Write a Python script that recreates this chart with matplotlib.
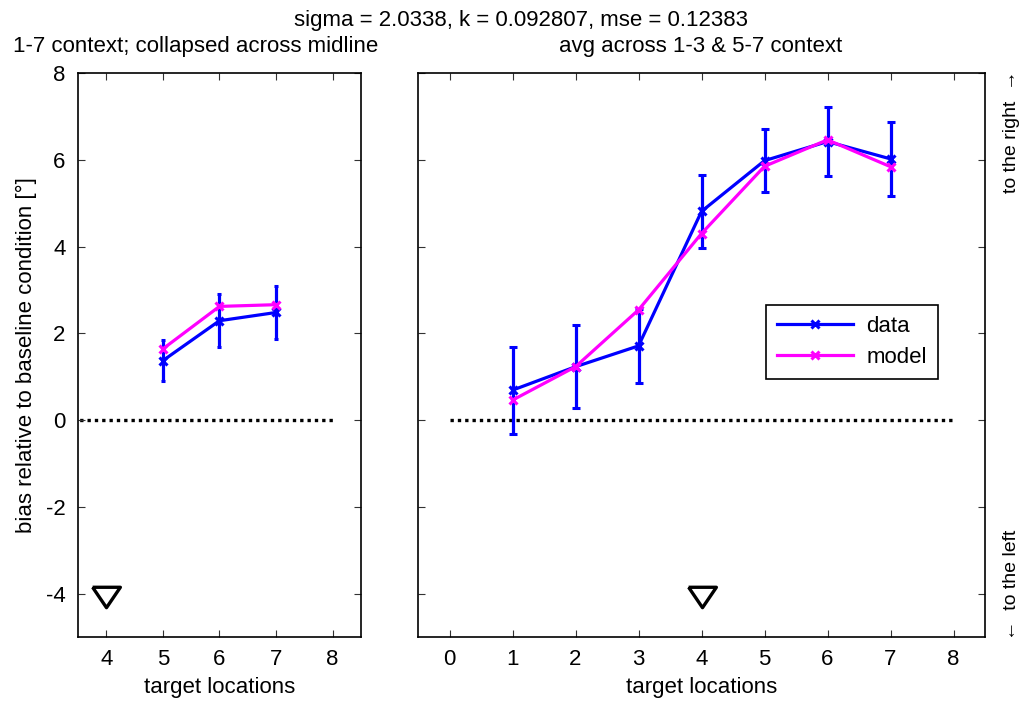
import matplotlib
matplotlib.use("Agg")
import matplotlib.pyplot as plt
from matplotlib.lines import Line2D
import numpy as np

plt.rcParams['font.family'] = ['Liberation Sans', 'DejaVu Sans']
plt.rcParams['axes.unicode_minus'] = False

# 1-7 context, collapsed across midline
loc_left = [5, 6, 7]
data_left = [1.37, 2.29, 2.48]
err_left = [0.47, 0.61, 0.60]
model_left = [1.64, 2.62, 2.66]

# average across 1-3 & 5-7 context
loc_right = [1, 2, 3, 4, 5, 6, 7]
data_right = [0.69, 1.23, 1.71, 4.81, 5.98, 6.42, 6.02]
err_right = [1.0, 0.96, 0.85, 0.84, 0.73, 0.80, 0.86]
model_right = [0.46, 1.23, 2.54, 4.30, 5.85, 6.46, 5.84]

fixation = 4
fixation_y = -4

title_main = "sigma = 2.0338, k = 0.092807, mse = 0.12383"
title_left = "1-7 context; collapsed across midline"
title_right = "avg across 1-3 & 5-7 context"

BLUE = "#0000ff"
PINK = "#ff00ff"
FS = 16
LW = 2.3

tri = [(-1.0, 0.52), (1.0, 0.52), (0.0, -0.95), (-1.0, 0.52)]

fig = plt.figure(figsize=(10.23, 7.02), dpi=100)
ax1 = fig.add_axes([0.0762, 0.0926, 0.2766, 0.8034])
ax2 = fig.add_axes([0.4086, 0.0926, 0.5543, 0.8034])


def draw(ax, x, d, e, m, xlim, xticks, cap):
    ax.plot([0, 8], [0, 0], color='k', lw=2.4, linestyle=(0, (1.0, 1.2)),
            dash_capstyle='butt', zorder=1)
    ax.errorbar(x, d, yerr=e, color=BLUE, lw=LW, elinewidth=LW,
                capsize=cap, capthick=LW, marker='x', ms=6, mew=2.2,
                zorder=3)
    ax.plot(x, m, color=PINK, lw=LW, marker='x', ms=6, mew=2.2, zorder=4)
    ax.plot([fixation], [fixation_y], marker=tri, ms=20, mfc='none',
            mec='k', mew=2.4, ls='none', clip_on=False)
    ax.set_xlim(*xlim)
    ax.set_ylim(-5, 8)
    ax.set_xticks(xticks)
    ax.set_yticks([-4, -2, 0, 2, 4, 6, 8])
    ax.tick_params(direction='in', length=5, width=0.8, top=True, right=True,
                   labelsize=FS, pad=9, color='#333333')
    for s in ax.spines.values():
        s.set_linewidth(1.2)


draw(ax1, loc_left, data_left, err_left, model_left, (3.5, 8.5),
     [4, 5, 6, 7, 8], 1.5)
draw(ax2, loc_right, data_right, err_right, model_right, (-0.5, 8.5),
     list(range(9)), 3)
ax2.set_yticklabels([])

ax1.set_xlabel("target locations", fontsize=FS, labelpad=5)
ax2.set_xlabel("target locations", fontsize=FS, labelpad=5)
ax1.set_ylabel("bias relative to baseline condition [°]", fontsize=FS,
               labelpad=6)

fig.text(0.509, 0.971, title_main, ha='center', va='center', fontsize=FS)
fig.text(0.013, 0.934, title_left, ha='left', va='center', fontsize=FS)
fig.text(0.685, 0.934, title_right, ha='center', va='center', fontsize=FS)

fig.text(0.989, 0.90, "to the right  \u2192", rotation=90, ha='center',
         va='top', fontsize=14)
fig.text(0.989, 0.088, "\u2190  to the left", rotation=90, ha='center',
         va='bottom', fontsize=14)

handles = [Line2D([], [], color=BLUE, lw=LW, marker='x', ms=6, mew=2.2),
           Line2D([], [], color=PINK, lw=LW, marker='x', ms=6, mew=2.2)]
leg = ax2.legend(handles, ['data', 'model'], loc='upper left',
                 bbox_to_anchor=(0.614, 0.589), borderaxespad=0,
                 fontsize=FS, fancybox=False, edgecolor='k', framealpha=1,
                 handlelength=3.4, borderpad=0.5, labelspacing=0.45,
                 handletextpad=0.6)
leg.get_frame().set_linewidth(1.2)

fig.savefig("out.png", dpi=100)
